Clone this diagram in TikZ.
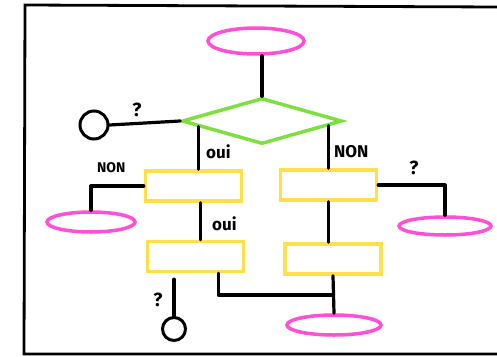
\documentclass[tikz,border=0pt]{standalone}
\usepackage{fontspec}
\setmainfont{Fira Sans}
\usetikzlibrary{shapes.geometric,calc}
\definecolor{pinkc}{HTML}{FF4FD6}
\definecolor{greenc}{HTML}{7EE03E}
\definecolor{yellowc}{HTML}{FFE04A}
\tikzset{
  oval/.style={ellipse,draw=pinkc,line width=3.5pt,inner sep=0pt},
  decision/.style={diamond,draw=greenc,line width=3.5pt,inner sep=0pt},
  stepbox/.style={rectangle,draw=yellowc,line width=3.5pt,inner sep=0pt,minimum width=96pt,minimum height=30pt},
  endpoint/.style={circle,draw=black,line width=3pt,inner sep=0pt},
  link/.style={draw=black,line width=3.2pt,line cap=round,line join=round},
  frameline/.style={draw=black,line width=2.8pt,line cap=round},
  lbl/.style={font=\bfseries\fontsize{17}{17}\selectfont,inner sep=0pt,anchor=base west},
  qmark/.style={font=\bfseries\fontsize{19}{19}\selectfont,inner sep=0pt}
}
\begin{document}
\begin{tikzpicture}[x=1pt,y=-1pt]
\useasboundingbox (0,0) rectangle (497,356);
% frame
\draw[frameline] (497,7) -- (25,5) -- (24,354) -- (497,354);
% nodes
\node[oval,minimum width=96pt,minimum height=26pt] (top) at (256,41) {};
\node[decision,minimum width=160pt,minimum height=46pt] (dia) at (262,121) {};
\node[endpoint,minimum size=28pt] (c1) at (94,125) {};
\node[stepbox] (b1) at (193.5,186) {};
\node[stepbox] (b2) at (328.5,185) {};
\node[stepbox] (b3) at (195.5,256.5) {};
\node[stepbox] (b4) at (333,259) {};
\node[oval,minimum width=88pt,minimum height=20pt] (e1) at (91,222) {};
\node[oval,minimum width=92pt,minimum height=18pt] (e2) at (445,226) {};
\node[oval,minimum width=94pt,minimum height=20pt] (e4) at (334,325) {};
\node[endpoint,minimum size=23pt] (c2) at (174,329) {};
% helper coordinates
\path (dia.west) -- (dia.south) coordinate[pos=0.22] (dL);
\path (dia.east) -- (dia.south) coordinate[pos=0.19] (dR);
\coordinate (m1) at ($(b1.south west)!0.57!(b1.south east)$);
\coordinate (j) at (333,295);
% connectors
\draw[link] (dia.north |- top.south) -- (dia.north);
\draw[link] (dia.west) -- (c1.east);
\draw[link] (dL) -- (dL |- b1.north);
\draw[link] (dR) -- (dR |- b2.north);
\draw[link] (b1.west) -| (e1.north);
\draw[link] (b2.east) -| (e2.north);
\draw[link] (m1) -- (m1 |- b3.north);
\draw[link] (b2.south) -- (b2.south |- b4.north);
\draw[link] (b4.south) -- (e4.north);
\draw[link] ($(b3.south west)!0.73!(b3.south east)$) |- (j);
\draw[link] ($(c2.north |- b3.south)+(0,6)$) -- (c2.north);
% labels
\node[qmark] (q1) at (137,110) {?};
\node[lbl] (l1) at (206,158) {oui};
\node[lbl] (l2) at (334,157) {NON};
\node[lbl,font=\bfseries\fontsize{14}{14}\selectfont] (l3) at (97,172) {NON};
\node[qmark] (q2) at (414,168) {?};
\node[lbl] (l4) at (212,230) {oui};
\node[qmark] (q3) at (158,300) {?};
\end{tikzpicture}
\end{document}
